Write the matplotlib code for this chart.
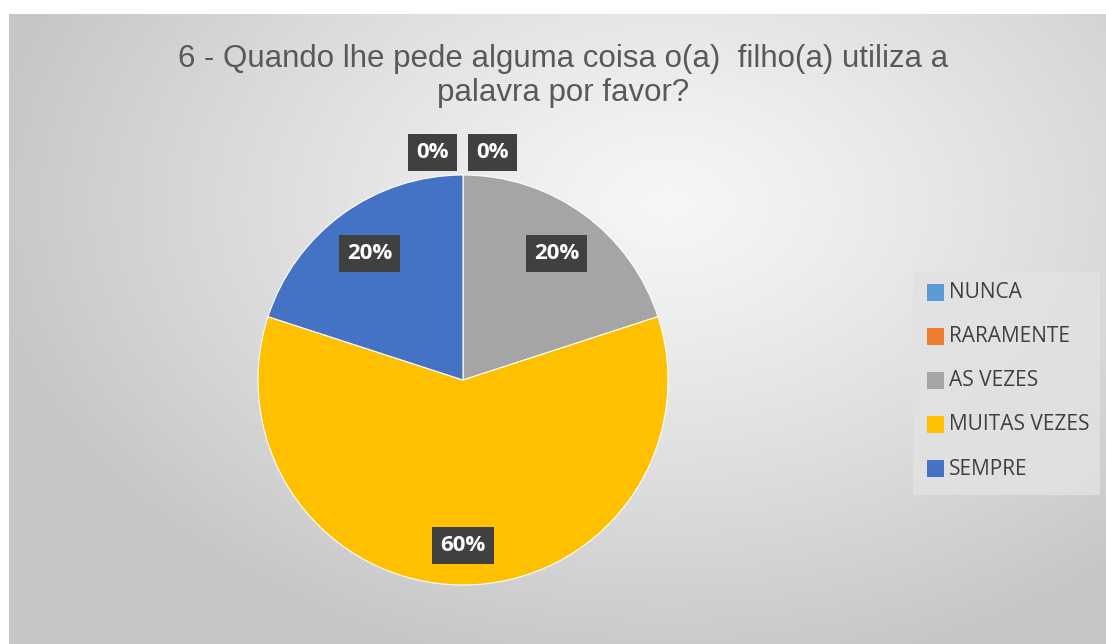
import numpy as np
import matplotlib
matplotlib.use("Agg")
import matplotlib.pyplot as plt
from matplotlib.patches import Rectangle

categories = ["NUNCA", "RARAMENTE", "AS VEZES", "MUITAS VEZES", "SEMPRE"]
values = [0, 0, 20, 60, 20]
colors = ["#5b9bd5", "#ed7d31", "#a5a5a5", "#ffc000", "#4472c4"]
title = "6 - Quando lhe pede alguma coisa o(a)  filho(a) utiliza a\npalavra por favor?"

W, H = 1106, 644
fig = plt.figure(figsize=(W / 100, H / 100), dpi=100)
fig.patch.set_facecolor("white")

# background panel with radial gradient
bx0 = 9 / W
bw, bh = 1 - bx0, (H - 14) / H
bg = fig.add_axes([bx0, 0, bw, bh])
ny, nx = 315, 550
yy, xx = np.mgrid[0:ny, 0:nx]
cx, cy = nx * 0.6, ny * 0.3
d = np.sqrt(((xx - cx) / (nx * 0.62)) ** 2 + ((yy - cy) / (ny * 0.75)) ** 2)
c0 = np.array([0.965, 0.965, 0.965])
c1 = np.array([0.78, 0.78, 0.78])
img = c0[None, None, :] + (c1 - c0)[None, None, :] * np.clip(d, 0, 1)[..., None] ** 1.2
bg.imshow(img, aspect="auto", extent=[0, 1, 0, 1], interpolation="bilinear", origin="upper")
bg.set_axis_off()

# title
fig.text(563 / W, 1 - 76 / H, title, ha="center", va="center", fontsize=22.5,
         color="#595959", family="Liberation Sans", linespacing=1.2)

# pie
R = 205
pcx, pcy = 463, 380
ax = fig.add_axes([(pcx - R) / W, 1 - (pcy + R) / H, 2 * R / W, 2 * R / H])
ax.set_facecolor("none")
wedges, texts, autotexts = ax.pie(values, colors=colors, startangle=90, counterclock=False,
                                  radius=1.0, autopct=lambda p: f"{p:.0f}%", pctdistance=0.775,
                                  wedgeprops=dict(linewidth=0.8, edgecolor="white"))
ax.set_xlim(-1, 1)
ax.set_ylim(-1, 1)
ax.set_aspect("equal")
zero_offsets = [-0.149, 0.144]
zi = 0
for v, t in zip(values, autotexts):
    t.set_color("white")
    t.set_fontweight("bold")
    t.set_fontsize(16)
    t.set_family("Open Sans")
    t.set_bbox(dict(boxstyle="square,pad=0.36", facecolor="#404040", edgecolor="none"))
    x, y = t.get_position()
    if v == 0:
        t.set_position((zero_offsets[zi], 1.11))
        zi += 1
    elif v > 50:
        t.set_position((x * 0.805 / 0.775, y * 0.805 / 0.775))
    else:
        t.set_position((x, y - 0.012))
    t.set_clip_on(False)

# legend
lx0, ly0, lx1, ly1 = 913, 272, 1100, 495
lax = fig.add_axes([lx0 / W, 1 - ly1 / H, (lx1 - lx0) / W, (ly1 - ly0) / H])
lax.set_xlim(0, lx1 - lx0)
lax.set_ylim(ly1 - ly0, 0)
lax.set_axis_off()
lax.add_patch(Rectangle((0, 0), lx1 - lx0, ly1 - ly0, facecolor="#e2e2e2", edgecolor="none", alpha=0.85))
for i, (cat, col) in enumerate(zip(categories, colors)):
    y = 20 + i * 44
    lax.add_patch(Rectangle((14, y - 8), 17, 17, facecolor=col, edgecolor="none"))
    lax.text(36, y + 1, cat, va="center", ha="left", fontsize=15, color="#404040", family="Open Sans")

fig.savefig("out.png", dpi=100)
